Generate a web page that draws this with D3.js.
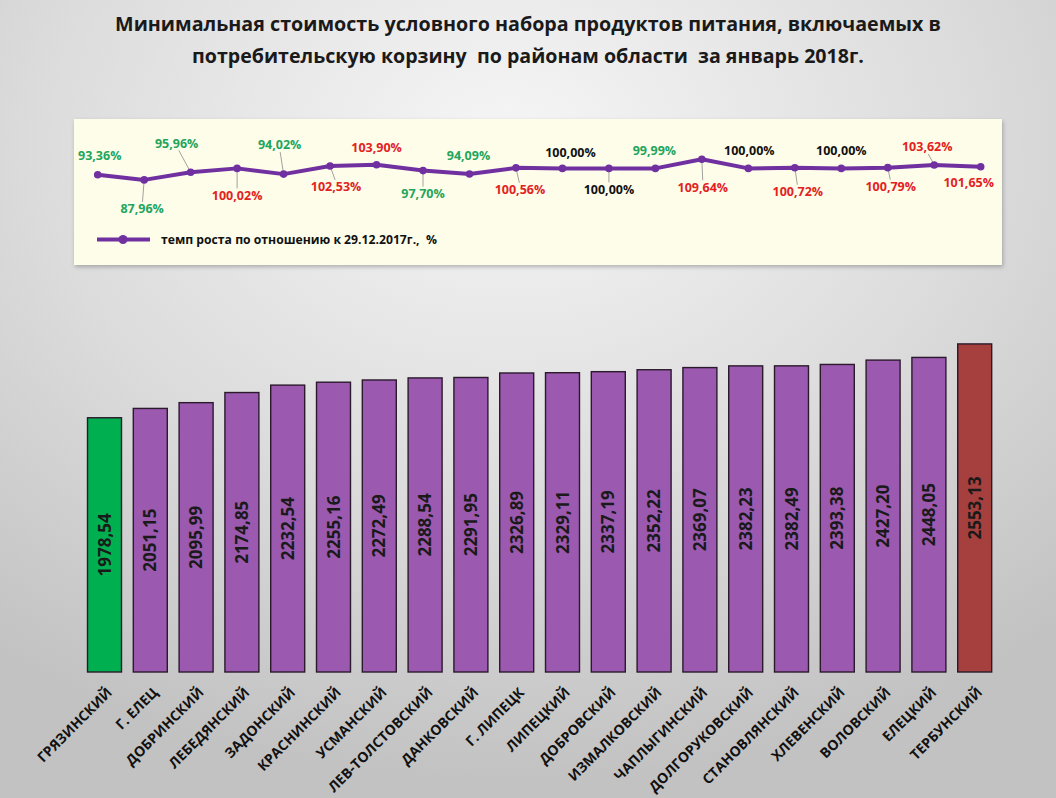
<!DOCTYPE html>
<html><head><meta charset="utf-8">
<script src="https://cdn.jsdelivr.net/npm/d3@7/dist/d3.min.js"></script>
<style>
html,body{margin:0;padding:0;}
svg{display:block;font-family:"Open Sans","Noto Sans",sans-serif;}
</style></head>
<body>
<svg id="chart" width="1056" height="798"></svg>
<script>
// ---------- DATA ----------
const districts = ["ГРЯЗИНСКИЙ","Г. ЕЛЕЦ","ДОБРИНСКИЙ","ЛЕБЕДЯНСКИЙ","ЗАДОНСКИЙ","КРАСНИНСКИЙ","УСМАНСКИЙ","ЛЕВ-ТОЛСТОВСКИЙ","ДАНКОВСКИЙ","Г. ЛИПЕЦК","ЛИПЕЦКИЙ","ДОБРОВСКИЙ","ИЗМАЛКОВСКИЙ","ЧАПЛЫГИНСКИЙ","ДОЛГОРУКОВСКИЙ","СТАНОВЛЯНСКИЙ","ХЛЕВЕНСКИЙ","ВОЛОВСКИЙ","ЕЛЕЦКИЙ","ТЕРБУНСКИЙ"];
const costs = [1978.54,2051.15,2095.99,2174.85,2232.54,2255.16,2272.49,2288.54,2291.95,2326.89,2329.11,2337.19,2352.22,2369.07,2382.23,2382.49,2393.38,2427.20,2448.05,2553.13];
const growth = [93.36,87.96,95.96,100.02,94.02,102.53,103.90,97.70,94.09,100.56,100.00,100.00,99.99,109.64,100.00,100.72,100.00,100.79,103.62,101.65];
const titleLines = ["Минимальная стоимость условного набора продуктов питания, включаемых в","потребительскую корзину  по районам области  за январь 2018г."];
const legendText = "темп роста по отношению к 29.12.2017г.,  %";

// ---------- LAYOUT (label placement, not data) ----------
const labelOffsets = [[2,-19,0],[-2,29,1],[-14,-29,1],[0,27,1],[-4,-29,1],[6,21,1],[0,-17,0],[0,23,1],[-1,-18,0],[4,22,1],
                      [8,-16,0],[0,21,1],[-1,-18,0],[1,28,1],[1,-18,0],[3,24,1],[0,-18,0],[3,19,1],[-7,-18,1],[-12,16,0]];

const svg = d3.select("#chart");
const W = 1056, H = 798;
const defs = svg.append("defs");
const bg = defs.append("radialGradient").attr("id","bg").attr("cx","48%").attr("cy","18%").attr("r","80%");
bg.append("stop").attr("offset","0%").attr("stop-color","#f6f6f6");
bg.append("stop").attr("offset","55%").attr("stop-color","#dcdcdc");
bg.append("stop").attr("offset","100%").attr("stop-color","#c2c2c2");
const sh = defs.append("filter").attr("id","shadow").attr("x","-5%").attr("y","-10%").attr("width","110%").attr("height","125%");
sh.append("feDropShadow").attr("dx",1).attr("dy",2).attr("stdDeviation",2).attr("flood-color","#000").attr("flood-opacity",0.25);

svg.append("rect").attr("width",W).attr("height",H).attr("fill","url(#bg)");

// ---------- TITLE ----------
const titleTargets = [[528,31,826],[528,63,672]];
titleLines.forEach((t,i)=>{
  const el = svg.append("text").attr("x",titleTargets[i][0]).attr("y",titleTargets[i][1])
    .attr("text-anchor","middle").attr("font-weight","bold").attr("font-size",19)
    .attr("fill","#1a1a1a").style("white-space","pre").text(t);
  const w = el.node().getComputedTextLength();
  el.attr("font-size", 19*titleTargets[i][2]/w);
});

// ---------- LINE PANEL ----------
const box = {x:74, y:119, w:928, h:146};
svg.append("rect").attr("x",box.x).attr("y",box.y).attr("width",box.w).attr("height",box.h)
  .attr("fill","#fdfdea").attr("filter","url(#shadow)");

const xl = d3.scalePoint().domain(districts).range([97.7,980.7]);
const yl = d3.scaleLinear().domain([0,120]).range([263.9,149.3]);

const fmtPct = v => d3.format(".2f")(v).replace(".",",")+"%";
const pctColor = v => v>100.001 ? "#e3221e" : (v<99.999 ? "#22a55c" : "#111111");

const lineG = svg.append("g");
growth.forEach((v,i)=>{
  const o = labelOffsets[i];
  if(!o[2]) return;
  const px = xl(districts[i]), py = yl(v);
  const ly = py + o[1] + (o[1]>0 ? -7 : 7);
  lineG.append("line").attr("x1",px).attr("y1",py).attr("x2",px+o[0]*0.85).attr("y2",ly)
    .attr("stroke","#8a8a8a").attr("stroke-width",0.8);
});
lineG.append("path").datum(growth)
  .attr("d", d3.line().x((d,i)=>xl(districts[i])).y(d=>yl(d)))
  .attr("fill","none").attr("stroke","#7030a0").attr("stroke-width",4).attr("stroke-linejoin","round");
lineG.selectAll("circle.pt").data(growth).join("circle").attr("class","pt")
  .attr("cx",(d,i)=>xl(districts[i])).attr("cy",d=>yl(d)).attr("r",3.8).attr("fill","#7030a0");
lineG.selectAll("text.pl").data(growth).join("text").attr("class","pl")
  .attr("x",(d,i)=>xl(districts[i])+labelOffsets[i][0])
  .attr("y",(d,i)=>yl(d)+labelOffsets[i][1])
  .attr("dy","0.35em").attr("text-anchor","middle")
  .attr("font-size",12.5).attr("font-weight","bold")
  .attr("fill",d=>pctColor(d)).text(d=>fmtPct(d));

// legend
const lg = svg.append("g");
lg.append("line").attr("x1",97).attr("x2",150).attr("y1",239.5).attr("y2",239.5).attr("stroke","#7030a0").attr("stroke-width",4);
lg.append("circle").attr("cx",123).attr("cy",239.5).attr("r",4.5).attr("fill","#7030a0");
lg.append("text").attr("x",161).attr("y",239.5).attr("dy","0.35em").attr("font-size",12.2).attr("font-weight","bold")
  .attr("fill","#111").style("white-space","pre").text(legendText);

// ---------- BARS ----------
const xb = d3.scaleBand().domain(districts).range([81.6,997.6]).paddingInner(0.258).paddingOuter(0.129);
const yb = d3.scaleLinear().domain([0,3000]).range([672,286.5]);
const barColor = (d,i) => i===0 ? "#00b050" : (i===districts.length-1 ? "#a5403e" : "#9b59b0");

const bars = svg.append("g");
bars.selectAll("rect").data(costs).join("rect")
  .attr("x",(d,i)=>xb(districts[i])).attr("width",xb.bandwidth())
  .attr("y",d=>yb(d)).attr("height",d=>yb(0)-yb(d))
  .attr("fill",barColor).attr("stroke","#2a1a2c").attr("stroke-width",1.4);
bars.selectAll("text").data(costs).join("text")
  .attr("transform",(d,i)=>`translate(${xb(districts[i])+xb.bandwidth()/2},${(yb(d)+yb(0))/2}) rotate(-90)`)
  .attr("text-anchor","middle").attr("dy","0.36em")
  .attr("font-size",17).attr("font-weight","bold").attr("fill","#1a1a1a")
  .text(d=>d3.format(".2f")(d).replace(".",","));

// x axis labels
const xa = svg.append("g").attr("transform","translate(0,672)")
  .call(d3.axisBottom(xb).tickSize(0).tickPadding(0));
xa.select(".domain").remove();
xa.selectAll("text")
  .attr("font-family","\"Open Sans\",\"Noto Sans\",sans-serif")
  .attr("font-size",14).attr("font-weight","bold").attr("fill","#111")
  .attr("text-anchor","end")
  .attr("transform","translate(5,18) rotate(-45)")
  .attr("y",0).attr("dy","0.35em");
</script>
</body></html>
